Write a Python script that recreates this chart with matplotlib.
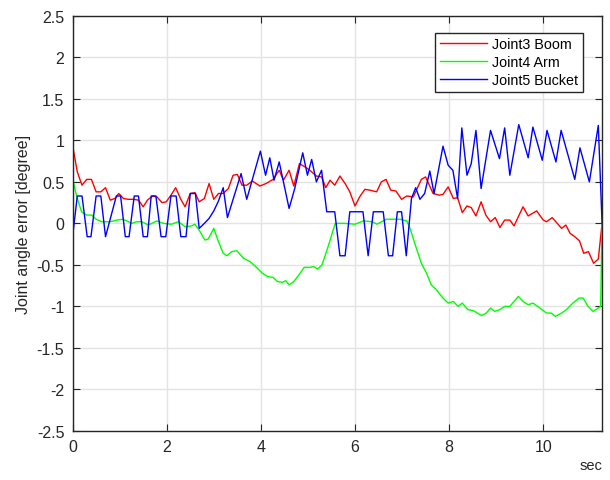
import numpy as np
import matplotlib
matplotlib.use("Agg")
import matplotlib.pyplot as plt
from matplotlib.ticker import FormatStrFormatter

# joint angle error traces (time in sec, error in degree)
boom_t = [0, 0.1, 0.2, 0.3, 0.4, 0.5, 0.6, 0.7, 0.8, 0.9, 0.98, 1.08, 1.18, 1.29, 1.4,
          1.5, 1.59, 1.7, 1.79, 1.9, 1.99, 2.09, 2.19, 2.3, 2.39, 2.5, 2.6, 2.69, 2.8,
          2.9, 3.0, 3.1, 3.2, 3.31, 3.41, 3.5, 3.6, 3.7, 3.82, 3.98, 4.11, 4.26, 4.39,
          4.48, 4.6, 4.7, 4.82, 4.94, 5.04, 5.18, 5.29, 5.38, 5.47, 5.57, 5.68, 5.79,
          5.89, 6.0, 6.1, 6.21, 6.32, 6.46, 6.56, 6.66, 6.76, 6.87, 6.99, 7.1, 7.24,
          7.41, 7.5, 7.66, 7.79, 7.87, 7.98, 8.09, 8.18, 8.28, 8.38, 8.47, 8.57, 8.68,
          8.78, 8.88, 8.98, 9.08, 9.18, 9.29, 9.38, 9.57, 9.68, 9.86, 10.0, 10.07, 10.19,
          10.39, 10.48, 10.57, 10.67, 10.77, 10.86, 10.96, 11.07, 11.17, 11.25]
boom = [0.94, 0.62, 0.46, 0.53, 0.53, 0.38, 0.38, 0.43, 0.28, 0.3, 0.36, 0.3, 0.29, 0.29, 0.28,
        0.2, 0.28, 0.33, 0.32, 0.25, 0.26, 0.34, 0.43, 0.29, 0.2, 0.36, 0.37, 0.26, 0.3,
        0.48, 0.29, 0.36, 0.36, 0.42, 0.58, 0.59, 0.46, 0.46, 0.51, 0.45, 0.48, 0.53, 0.64,
        0.52, 0.64, 0.45, 0.72, 0.68, 0.64, 0.57, 0.56, 0.43, 0.52, 0.46, 0.57, 0.48,
        0.38, 0.21, 0.32, 0.41, 0.4, 0.38, 0.5, 0.53, 0.4, 0.39, 0.29, 0.33, 0.32,
        0.53, 0.56, 0.36, 0.34, 0.35, 0.44, 0.3, 0.31, 0.13, 0.21, 0.19, 0.09, 0.26,
        0.1, 0.02, 0.07, -0.05, 0.04, 0.04, -0.03, 0.2, 0.09, 0.15, 0.04, 0.02, 0.07,
        -0.06, -0.02, -0.12, -0.16, -0.21, -0.36, -0.34, -0.48, -0.43, 0.0]

arm_t = [0, 0.09, 0.19, 0.3, 0.41, 0.5, 0.62, 0.8, 0.94, 1.07, 1.15, 1.26, 1.36, 1.47, 1.61,
         1.79, 1.93, 2.1, 2.25, 2.39, 2.53, 2.6, 2.71, 2.81, 2.88, 3.0, 3.1, 3.2, 3.28,
         3.38, 3.49, 3.63, 3.77, 3.89, 4.03, 4.14, 4.26, 4.35, 4.46, 4.53, 4.6, 4.7,
         4.81, 4.92, 5.04, 5.12, 5.21, 5.3, 5.44, 5.58, 5.79, 6.0, 6.18, 6.36, 6.47,
         6.6, 6.67, 6.95, 7.1, 7.17, 7.27, 7.41, 7.52, 7.62, 7.73, 7.87, 7.98, 8.09,
         8.19, 8.28, 8.4, 8.51, 8.69, 8.79, 8.88, 8.97, 9.07, 9.18, 9.29, 9.47, 9.57,
         9.68, 9.78, 9.93, 10.07, 10.17, 10.26, 10.39, 10.49, 10.63, 10.76, 10.85,
         10.95, 11.06, 11.17, 11.22, 11.25]
arm = [0.54, 0.32, 0.14, 0.1, 0.1, 0.05, 0.02, 0.02, 0.04, 0.05, 0.03, 0.0, 0.02, 0.02, -0.02,
       0.03, 0.0, -0.01, 0.02, -0.04, -0.03, -0.01, -0.1, -0.2, -0.19, -0.06, -0.22, -0.36, -0.39,
       -0.34, -0.33, -0.42, -0.46, -0.52, -0.6, -0.64, -0.65, -0.7, -0.71, -0.69, -0.74, -0.7,
       -0.62, -0.53, -0.53, -0.52, -0.55, -0.5, -0.26, 0.0, 0.0, -0.01, 0.03, 0.02, -0.01,
       0.03, 0.05, 0.05, 0.03, -0.06, -0.24, -0.48, -0.6, -0.74, -0.8, -0.9, -0.96, -0.94,
       -1.0, -0.96, -1.04, -1.05, -1.11, -1.08, -1.02, -1.06, -1.04, -1.0, -1.0, -0.88, -0.94,
       -0.98, -0.96, -1.02, -1.08, -1.08, -1.12, -1.08, -1.04, -0.96, -0.9, -0.9,
       -1.0, -1.06, -1.02, -1.0, 0.0]

bucket_t = [0, 0.1, 0.2, 0.31, 0.39, 0.5, 0.6, 0.7, 0.93, 1.02, 1.12, 1.2, 1.31, 1.4, 1.5,
            1.59, 1.67, 1.77, 1.88, 1.98, 2.09, 2.2, 2.3, 2.41, 2.5, 2.61, 2.69, 2.8, 2.9,
            3.0, 3.1, 3.2, 3.29, 3.58, 3.7, 3.99, 4.1, 4.19, 4.28, 4.39, 4.6, 4.72, 4.89,
            4.99, 5.08, 5.18, 5.29, 5.4, 5.57, 5.68, 5.79, 5.89, 6.17, 6.28, 6.39, 6.6,
            6.71, 6.8, 6.9, 6.99, 7.09, 7.2, 7.29, 7.38, 7.48, 7.59, 7.68, 7.87, 7.98,
            8.08, 8.18, 8.27, 8.38, 8.47, 8.57, 8.68, 8.88, 9.07, 9.18, 9.29, 9.48, 9.68,
            9.78, 9.98, 10.08, 10.27, 10.38, 10.67, 10.78, 10.98, 11.17, 11.25]
bucket = [-0.16, 0.33, 0.33, -0.16, -0.16, 0.33, 0.33, -0.16, 0.33, 0.33, -0.16, -0.16, 0.33, 0.33, -0.16,
          -0.16, 0.33, 0.33, -0.16, -0.16, 0.33, 0.33, -0.16, -0.16, 0.36, 0.36, -0.06, 0.0, 0.06,
          0.15, 0.27, 0.43, 0.07, 0.6, 0.29, 0.87, 0.58, 0.79, 0.52, 0.74, 0.18, 0.42, 0.85,
          0.58, 0.77, 0.5, 0.64, 0.14, 0.14, -0.39, -0.39, 0.14, 0.14, -0.39, 0.14, 0.14,
          -0.39, -0.39, 0.14, 0.14, -0.39, 0.3, 0.43, 0.29, 0.36, 0.63, 0.36, 0.93, 0.7,
          0.64, 0.3, 1.15, 0.58, 0.72, 1.12, 0.42, 1.12, 0.78, 1.15, 0.58, 1.19, 0.79,
          1.16, 0.76, 1.12, 0.74, 1.12, 0.53, 0.91, 0.5, 1.18, 0.0]

labels = ["Joint3 Boom", "Joint4 Arm", "Joint5 Bucket"]

plt.rcParams['font.family'] = ['Liberation Sans', 'DejaVu Sans']
txt = '#262626'

fig = plt.figure(figsize=(6.1, 4.81), dpi=100)
ax = fig.add_axes([0.119, 0.102, 0.868, 0.863])

ax.plot(boom_t, boom, color=(1, 0, 0), lw=1.0, label=labels[0])
ax.plot(arm_t, arm, color=(0, 1, 0), lw=1.0, label=labels[1])
ax.plot(bucket_t, bucket, color=(0, 0, 1), lw=1.0, label=labels[2])

ax.set_xlim(0, 11.25)
ax.set_ylim(-2.5, 2.5)
ax.set_xticks(np.arange(0, 11, 2))
ax.set_yticks(np.arange(-2.5, 2.51, 0.5))
ax.yaxis.set_major_formatter(FormatStrFormatter('%g'))
ax.grid(True, color='#e3e3e3', lw=1.0)
ax.set_axisbelow(True)
ax.tick_params(direction='in', top=True, right=True, length=5, width=0.8,
               colors=txt, labelsize=11.5, pad=6)
for s in ax.spines.values():
    s.set_color(txt)
    s.set_linewidth(1.0)

ax.set_ylabel("Joint angle error [degree]", fontsize=11.5, color=txt, labelpad=4)
ax.set_xlabel("sec", fontsize=10.5, color=txt, loc='right', labelpad=3)

leg = ax.legend(loc='upper right', bbox_to_anchor=(0.977, 0.977), fontsize=10.3,
                fancybox=False, framealpha=1, edgecolor=txt, handlelength=3.3,
                borderpad=0.3, labelspacing=0.3, handletextpad=0.4)
leg.get_frame().set_linewidth(1.0)

fig.savefig("out.png", dpi=100)
